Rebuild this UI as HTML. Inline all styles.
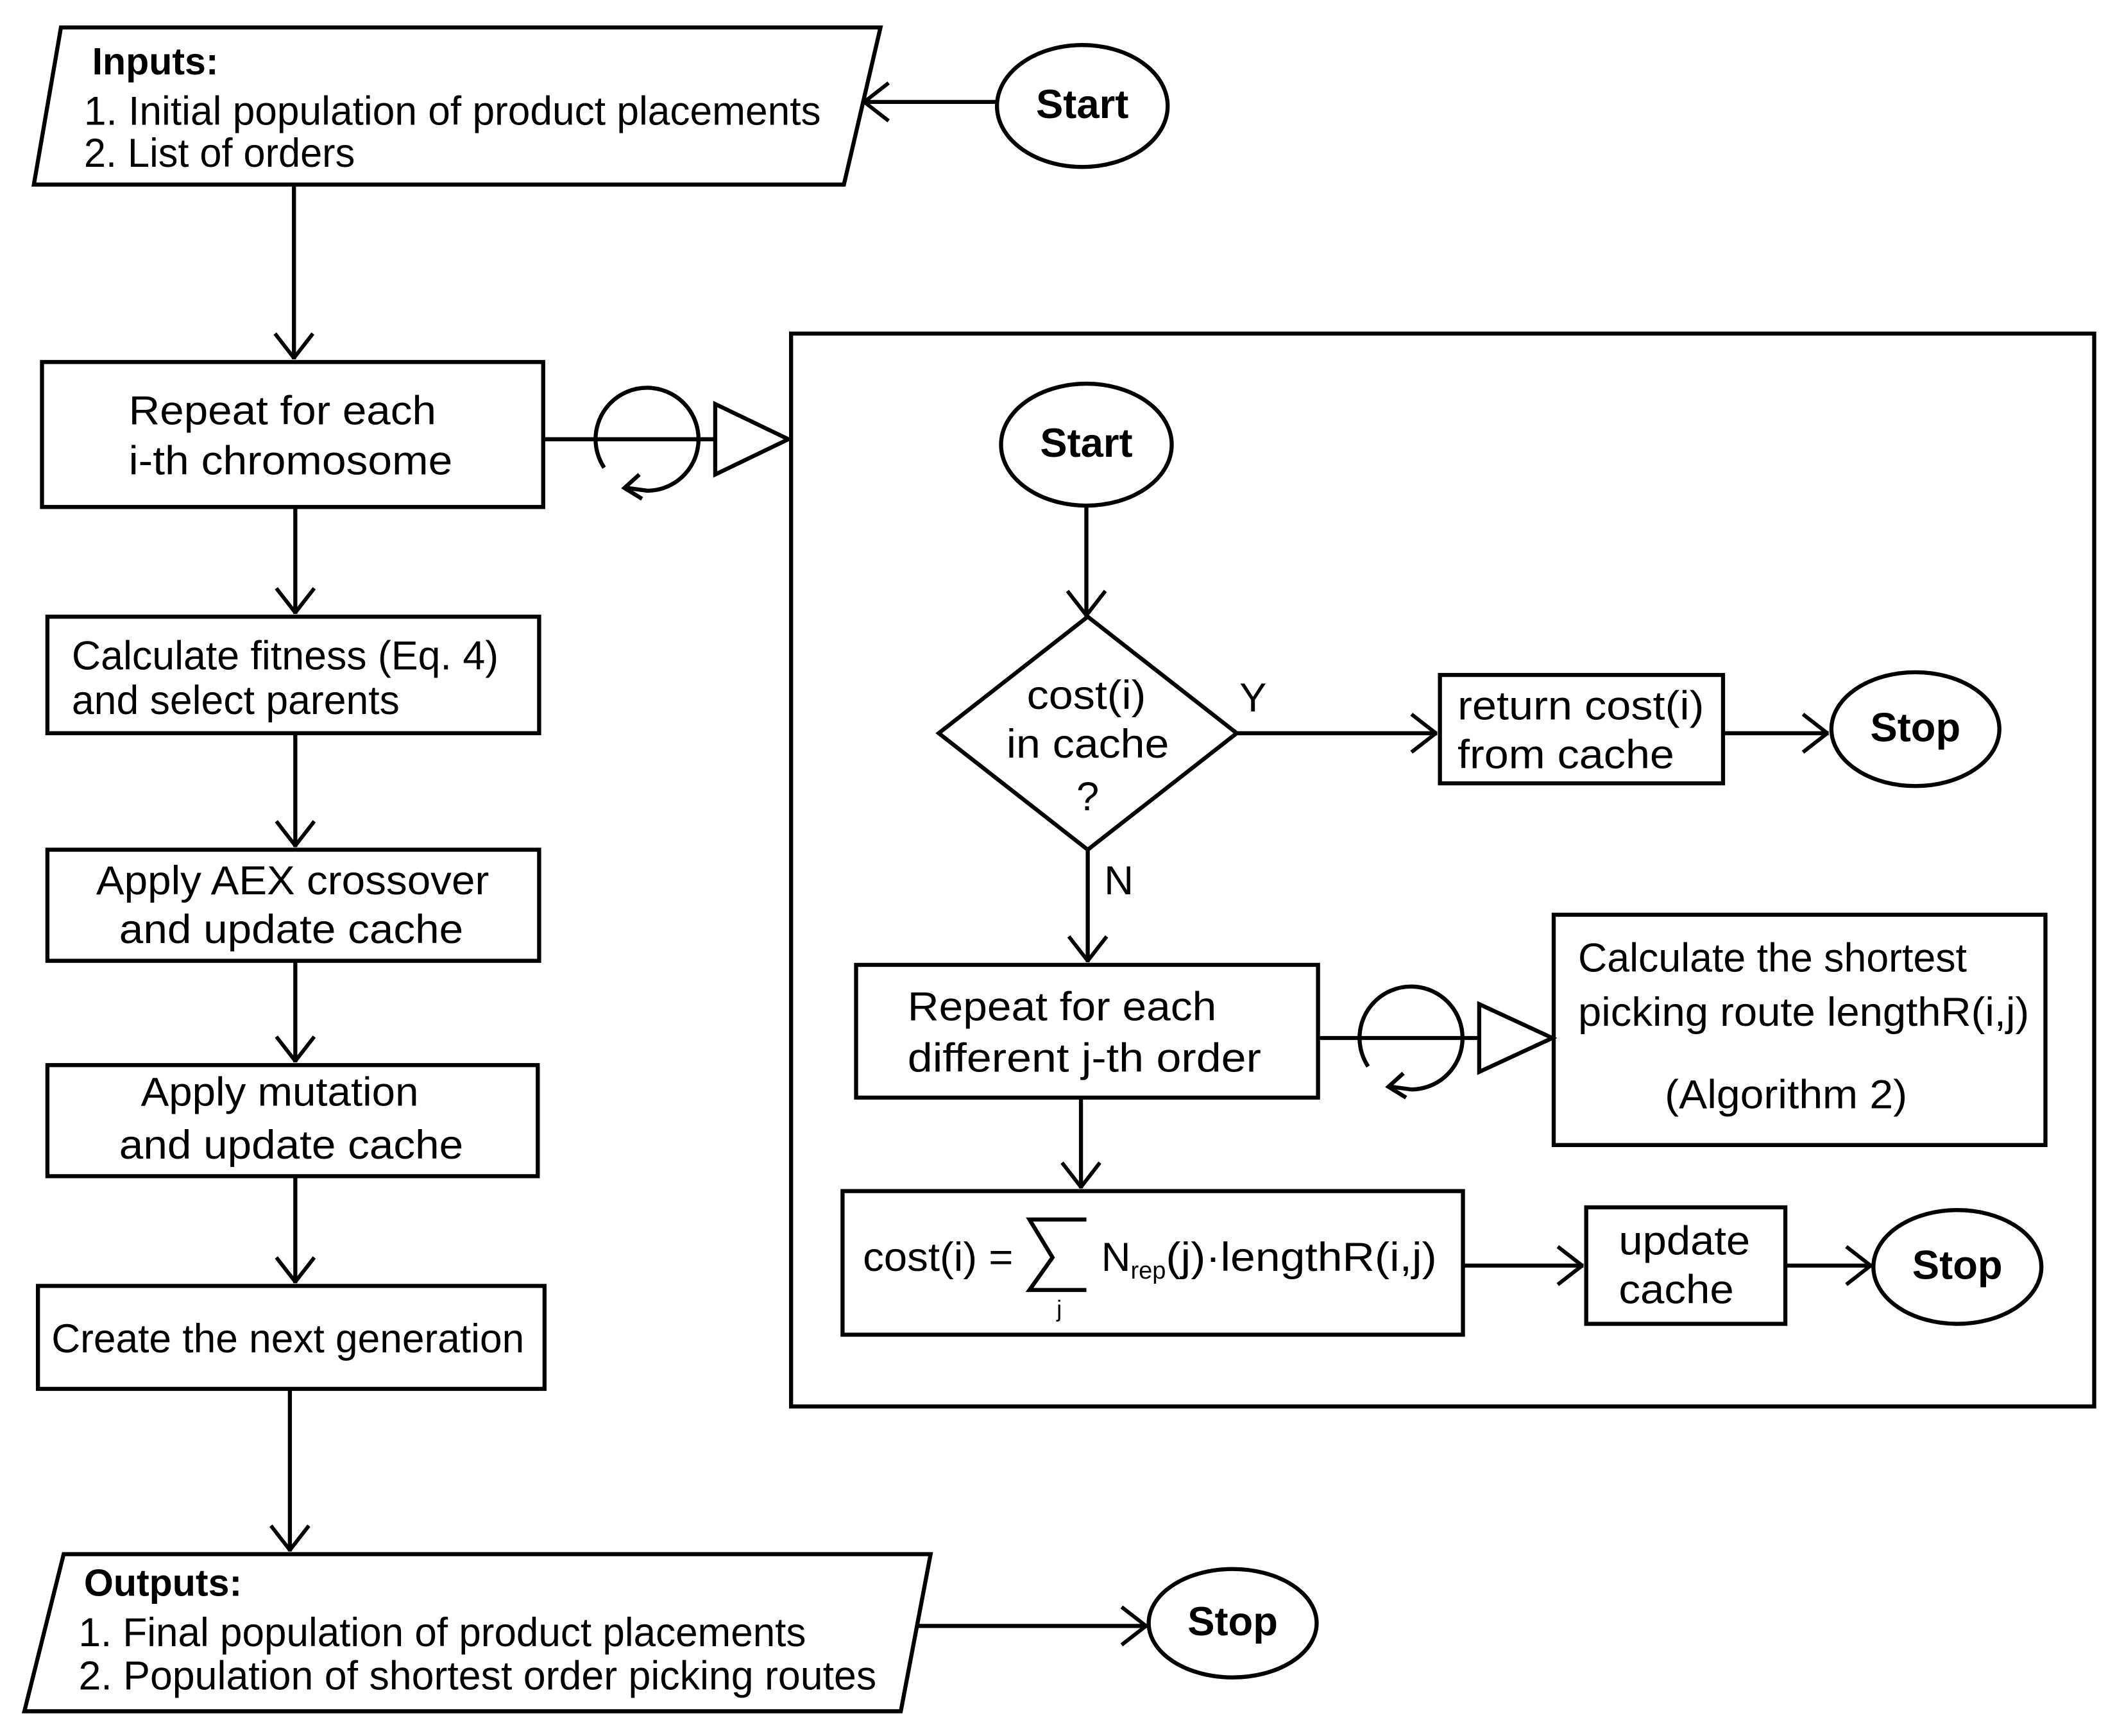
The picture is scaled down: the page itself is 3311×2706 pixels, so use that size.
<!DOCTYPE html>
<html><head><meta charset="utf-8"><style>
html,body{margin:0;padding:0;background:#fff}
svg{display:block}
text{font-family:"Liberation Sans",Arial,sans-serif;font-size:30px;fill:#000}
.b{font-weight:bold;font-size:30px}
</style></head><body>
<svg width="3311" height="2706" viewBox="0 0 1568 1281" xmlns="http://www.w3.org/2000/svg">
<defs>
<marker id="a" viewBox="0 0 20 30" refX="20" refY="15" markerWidth="20" markerHeight="30" markerUnits="userSpaceOnUse" orient="auto">
<path d="M1,1 L19,15 L1,29" fill="none" stroke="#000" stroke-width="2.8"/>
</marker>
</defs>
<g fill="none" stroke="#000" stroke-width="3">
<polygon points="45,20 650,20 623,136 25,136" fill="#fff"/>
<ellipse cx="799" cy="78" rx="63" ry="45"/>
<line x1="736" y1="75" x2="637" y2="75" marker-end="url(#a)"/>
<line x1="217" y1="136" x2="217" y2="265" marker-end="url(#a)"/>
<rect x="31" y="267" width="370" height="107"/>
<line x1="401" y1="324" x2="528" y2="324"/>
<path d="M446,345 A38,38 0 1 1 478,362 L463,360"/>
<path d="M472,350 L461,360 L474,368"/>
<polygon points="528,298 528,350 582,324"/>
<rect x="584" y="246" width="962" height="792"/>
<line x1="218" y1="374" x2="218" y2="453" marker-end="url(#a)"/>
<rect x="35" y="455" width="363" height="86"/>
<line x1="218" y1="541" x2="218" y2="625" marker-end="url(#a)"/>
<rect x="35" y="627" width="363" height="82"/>
<line x1="218" y1="709" x2="218" y2="784" marker-end="url(#a)"/>
<rect x="35" y="786" width="362" height="82"/>
<line x1="218" y1="868" x2="218" y2="947" marker-end="url(#a)"/>
<rect x="28" y="949" width="374" height="76"/>
<line x1="214" y1="1025" x2="214" y2="1145" marker-end="url(#a)"/>
<polygon points="47,1147 687,1147 665,1263 18,1263"/>
<line x1="676" y1="1200" x2="847" y2="1200" marker-end="url(#a)"/>
<ellipse cx="910" cy="1198" rx="62" ry="40"/>

<ellipse cx="802" cy="328" rx="63" ry="45"/>
<line x1="802" y1="373" x2="802" y2="455" marker-end="url(#a)"/>
<polygon points="803,455 913,541 803,627 693,541"/>
<line x1="913" y1="541" x2="1061" y2="541" marker-end="url(#a)"/>
<rect x="1063" y="498" width="209" height="80"/>
<line x1="1272" y1="541" x2="1350" y2="541" marker-end="url(#a)"/>
<ellipse cx="1414" cy="538" rx="62" ry="42"/>
<line x1="803" y1="627" x2="803" y2="710" marker-end="url(#a)"/>
<rect x="632" y="712" width="341" height="98"/>
<line x1="973" y1="766" x2="1092" y2="766"/>
<path d="M1010,787 A38,38 0 1 1 1042,804 L1027,802"/>
<path d="M1036,792 L1025,802 L1038,810"/>
<polygon points="1092,741 1092,791 1146,766"/>
<rect x="1147" y="675" width="363" height="170"/>
<line x1="798" y1="810" x2="798" y2="877" marker-end="url(#a)"/>
<rect x="622" y="879" width="458" height="106"/>
<line x1="1080" y1="934" x2="1169" y2="934" marker-end="url(#a)"/>
<rect x="1171" y="891" width="147" height="86"/>
<line x1="1318" y1="934" x2="1382" y2="934" marker-end="url(#a)"/>
<ellipse cx="1445" cy="935" rx="62" ry="42"/>
<path d="M802,900 L760,900 L777,928 L760,952 L802,952" stroke-width="3"/>
</g>
<g dominant-baseline="central">
<text x="68" y="45" class="b" style="font-size:28px">Inputs:</text>
<text x="62" y="82" textLength="544" lengthAdjust="spacingAndGlyphs">1. Initial population of product placements</text>
<text x="62" y="113" textLength="200" lengthAdjust="spacingAndGlyphs">2. List of orders</text>
<text x="799" y="77" class="b" text-anchor="middle">Start</text>
<text x="95" y="303" textLength="227" lengthAdjust="spacingAndGlyphs">Repeat for each</text>
<text x="95" y="340" textLength="239" lengthAdjust="spacingAndGlyphs">i-th chromosome</text>
<text x="53" y="484" textLength="315" lengthAdjust="spacingAndGlyphs">Calculate fitness (Eq. 4)</text>
<text x="53" y="517" textLength="242" lengthAdjust="spacingAndGlyphs">and select parents</text>
<text x="71" y="650" textLength="290" lengthAdjust="spacingAndGlyphs">Apply AEX crossover</text>
<text x="88" y="686" textLength="254" lengthAdjust="spacingAndGlyphs">and update cache</text>
<text x="104" y="806" textLength="205" lengthAdjust="spacingAndGlyphs">Apply mutation</text>
<text x="88" y="845" textLength="254" lengthAdjust="spacingAndGlyphs">and update cache</text>
<text x="38" y="988" textLength="349" lengthAdjust="spacingAndGlyphs">Create the next generation</text>
<text x="62" y="1168" class="b" style="font-size:28px">Outputs:</text>
<text x="58" y="1205" textLength="537" lengthAdjust="spacingAndGlyphs">1. Final population of product placements</text>
<text x="58" y="1237" textLength="589" lengthAdjust="spacingAndGlyphs">2. Population of shortest order picking routes</text>
<text x="910" y="1197" class="b" text-anchor="middle">Stop</text>

<text x="802" y="327" class="b" text-anchor="middle">Start</text>
<text x="758" y="513" textLength="88" lengthAdjust="spacingAndGlyphs">cost(i)</text>
<text x="743" y="549" textLength="120" lengthAdjust="spacingAndGlyphs">in cache</text>
<text x="803" y="588" text-anchor="middle">?</text>
<text x="925" y="515" text-anchor="middle">Y</text>
<text x="826" y="650" text-anchor="middle">N</text>
<text x="1076" y="521" textLength="182" lengthAdjust="spacingAndGlyphs">return cost(i)</text>
<text x="1076" y="557" textLength="160" lengthAdjust="spacingAndGlyphs">from cache</text>
<text x="1414" y="537" class="b" text-anchor="middle">Stop</text>
<text x="670" y="743" textLength="228" lengthAdjust="spacingAndGlyphs">Repeat for each</text>
<text x="670" y="781" textLength="261" lengthAdjust="spacingAndGlyphs">different  j-th order</text>
<text x="1165" y="707" textLength="287" lengthAdjust="spacingAndGlyphs">Calculate the shortest</text>
<text x="1165" y="747" textLength="333" lengthAdjust="spacingAndGlyphs">picking route lengthR(i,j)</text>
<text x="1229" y="808" textLength="179" lengthAdjust="spacingAndGlyphs">(Algorithm 2)</text>
<text x="637" y="928" textLength="111" lengthAdjust="spacingAndGlyphs">cost(i) =</text>
<text x="782" y="966" text-anchor="middle" style="font-size:17px">j</text>
<text x="813" y="928">N<tspan style="font-size:18px" dy="10">rep</tspan><tspan dy="-10" textLength="200" lengthAdjust="spacingAndGlyphs">(j)·lengthR(i,j)</tspan></text>
<text x="1195" y="916" textLength="97" lengthAdjust="spacingAndGlyphs">update</text>
<text x="1195" y="952" textLength="85" lengthAdjust="spacingAndGlyphs">cache</text>
<text x="1445" y="934" class="b" text-anchor="middle">Stop</text>
</g>
</svg>
</body></html>
